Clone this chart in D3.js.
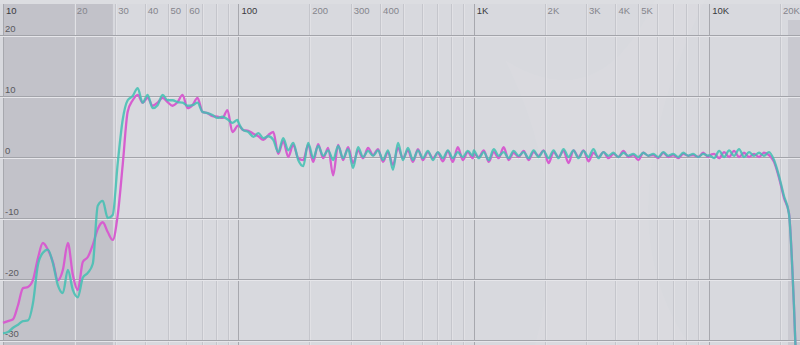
<!DOCTYPE html>
<html>
<head>
<meta charset="utf-8">
<script src="https://cdn.jsdelivr.net/npm/d3@7"></script>
<style>
  html, body { margin: 0; padding: 0; background: #d8d9de; }
  svg { display: block; }
  text { font-family: "Liberation Sans", Arial, sans-serif; font-size: 9.5px; }
</style>
</head>
<body>
<svg id="eq-svg" width="800" height="345"></svg>
<script>
// frequency points (Hz), ~5% apart
const freqs = [
  10, 10.5, 11.03, 11.58, 12.16, 12.76, 13.4, 14.07, 14.77, 15.51, 16.29, 17.1, 17.96, 18.86, 19.8, 20.79,
  21.83, 22.92, 24.07, 25.27, 26.53, 27.86, 29.25, 30.72, 32.25, 33.86, 35.56, 37.34, 39.2, 41.16, 43.22, 45.38,
  47.65, 50.03, 52.53, 55.16, 57.92, 60.81, 63.85, 67.05, 70.4, 73.92, 77.62, 81.5, 85.57, 89.85, 94.34, 99.06,
  100, 105, 110.3, 115.8, 121.6, 127.6, 134, 140.7, 147.7, 155.1, 162.9, 171, 179.6, 188.6, 198, 207.9,
  218.3, 229.2, 240.7, 252.7, 265.3, 278.6, 292.5, 307.2, 322.5, 338.6, 355.6, 373.4, 392, 411.6, 432.2, 453.8,
  476.5, 500.3, 525.3, 551.6, 579.2, 608.1, 638.5, 670.5, 704, 739.2, 776.2, 815, 855.7, 898.5, 943.4, 990.6,
  1000, 1050, 1103, 1158, 1216, 1276, 1340, 1407, 1477, 1551, 1629, 1710, 1796, 1886, 1980, 2079,
  2183, 2292, 2407, 2527, 2653, 2786, 2925, 3072, 3225, 3386, 3556, 3734, 3920, 4116, 4322, 4538,
  4765, 5003, 5253, 5516, 5792, 6081, 6385, 6705, 7040, 7392, 7762, 8150, 8557, 8985, 9434, 9906,
  10000, 10500, 11030, 11580, 12160, 12760, 13400, 14070, 14770, 15510, 16290, 17100, 17960, 18860, 19800, 20790,
  21830, 22920, 24070
];

// magenta trace (dB)
const magentaDb = [
  -27.2, -26.9, -26.6, -24.3, -21.5, -21.3, -20.2, -16.6, -14.1, -15.2, -17.2, -20.2, -18.5, -14.1, -19.3, -21.8,
  -17.2, -16.4, -14.4, -11.8, -10.7, -12.3, -13.6, -9.5, -1.3, 7.4, 9.3, 10.2, 8.9, 9.7, 8.4, 8.9,
  9.7, 9.0, 8.4, 9.0, 10.2, 8.0, 8.5, 9.7, 7.4, 7.2, 6.7, 6.6, 6.4, 7.7, 4.1, 5.1,
  5.2, 4.4, 4.3, 3.8, 3.4, 2.8, 3.6, 4.1, 0.5, 2.6, 0, 2.0, -0.2, -0.5, 2.0, -0.8,
  2.1, -0.2, 1.5, -3.0, 2.0, -0.5, 1.6, -1.0, 1.1, -0.2, 1.5, 0.3, 1.3, -0.8, 0.8, -1.3,
  1.5, -0.2, 1.1, -0.8, 1.3, -0.5, 0.8, -0.2, 0.7, -0.7, 1.0, -0.8, 1.6, -0.5, 0.8, -0.2,
  0.5, 0, 1.1, -0.8, 0.8, -0.2, 1.6, -0.5, 0.7, 0, 1.0, -0.5, 0.8, 0.2, 1.1, -1.0,
  0.8, 0, 1.0, -1.0, 1.1, 0, 1.1, -0.7, 0.7, 0, 0.8, -0.2, 0.5, 0, 1.0, 0,
  0.3, -0.5, 0.7, 0.2, 0.3, -0.2, 0.7, 0, 0.3, -0.2, 0.5, 0.2, 0.3, 0, 0.7, 0,
  0.2, 0.5, -0.2, 0.8, 0, 1.0, 0, 0.7, 0, 0.5, 0, 0.7, 0.3, -0.8, -3.4, -6.7,
  -9.2, -24.3, -46
];

// teal trace (dB)
const tealDb = [
  -28.9, -28.7, -28.0, -27.5, -26.9, -26.8, -24.0, -17.7, -15.7, -15.2, -17.4, -21.0, -22.3, -18.5, -21.8, -23.0,
  -19.8, -19.0, -17.5, -8.0, -7.2, -10.0, -9.5, -1.0, 6.1, 9.3, 10.0, 11.3, 8.9, 10.2, 8.0, 8.5,
  10.2, 9.3, 9.3, 9.0, 8.9, 8.4, 8.5, 8.9, 7.4, 7.2, 6.9, 6.4, 6.6, 6.2, 5.6, 6.1,
  5.7, 4.4, 4.1, 3.3, 3.9, 3.1, 3.4, 2.8, 0.8, 3.1, 1.1, 2.3, -0.5, -1.5, 2.3, -0.2,
  1.8, 0.2, 1.1, -0.5, 1.8, -0.2, 1.3, -1.8, 1.6, 0, 1.0, 0.2, 1.1, -0.5, 1.1, -2.1,
  2.3, -0.5, 1.5, -0.5, 1.1, -0.2, 1.0, -0.5, 0.8, -0.2, 1.1, -0.2, 0.8, 0, 1.0, 0.2,
  1.1, -0.2, 0.8, -0.5, 1.3, 0.2, 0.8, -0.2, 1.0, 0.2, 0.8, -0.2, 1.1, 0, 1.0, -0.2,
  1.1, -0.2, 1.3, 0, 1.1, -0.2, 1.0, 0, 1.3, -0.2, 0.8, 0.2, 0.7, 0, 0.7, 0.2,
  0.5, 0, 0.7, 0.2, 0.5, 0, 0.8, 0.2, 0.5, 0, 0.7, 0.2, 0.5, 0, 0.5, 0.2,
  0.3, -0.2, 1.0, 0, 1.1, 0.2, 1.3, 0, 0.8, 0.2, 0.7, 0.2, 0.8, -0.5, -3.1, -6.4,
  -9.3, -24.3, -46
];

const freqTicks = [10, 20, 30, 40, 50, 60, 100, 200, 300, 400, 1000, 2000, 3000, 4000, 5000, 10000, 20000];
const freqLabels = ["10", "20", "30", "40", "50", "60", "100", "200", "300", "400", "1K", "2K", "3K", "4K", "5K", "10K", "20K"];
const decades = [10, 100, 1000, 10000];
const dbTicks = [20, 10, 0, -10, -20, -30];

const size = { width: 800, height: 345 };
const plotTop = 4;

const x = d3.scaleLog().domain([10, 20000]).range([3, 780]);
const y = d3.scaleLinear().domain([-30, 20]).range([340, 35]);

const svg = d3.select("#eq-svg");

// backgrounds
svg.append("rect").attr("width", size.width).attr("height", size.height).attr("fill", "#dcdde1");
svg.append("rect").attr("y", plotTop).attr("width", size.width).attr("height", size.height - plotTop).attr("fill", "#d8d9de");
svg.append("rect")
  .attr("x", x(10)).attr("y", plotTop)
  .attr("width", x(29.3) - x(10)).attr("height", size.height - plotTop)
  .attr("fill", "#c2c2c9");
svg.append("rect")
  .attr("x", 788).attr("y", 20)
  .attr("width", 12).attr("height", size.height - 20)
  .attr("fill", "#c9c9d0");

// faint overlay shape in the highs
svg.append("path")
  .attr("d", "M505,60 Q575,200 535,345 L690,345 Q600,220 705,0 L655,0 Q600,120 505,60 Z")
  .attr("fill", "#ffffff")
  .attr("opacity", 0.05);

// vertical grid
const minorFreqs = x.ticks().filter((f) => f <= 20000 && !decades.includes(f));
const vgrid = svg.append("g");
vgrid.selectAll(".vhi")
  .data(minorFreqs)
  .enter()
  .append("line")
  .attr("x1", (d) => Math.round(x(d)) + 1.5)
  .attr("x2", (d) => Math.round(x(d)) + 1.5)
  .attr("y1", plotTop).attr("y2", size.height)
  .attr("stroke", "#e1e1e5").attr("stroke-width", 1);
vgrid.selectAll(".vminor")
  .data(minorFreqs)
  .enter()
  .append("line")
  .attr("x1", (d) => Math.round(x(d)) + 0.5)
  .attr("x2", (d) => Math.round(x(d)) + 0.5)
  .attr("y1", plotTop).attr("y2", size.height)
  .attr("stroke", "#c5c6cc").attr("stroke-width", 1);
vgrid.selectAll(".vmajor")
  .data(decades)
  .enter()
  .append("line")
  .attr("x1", (d) => Math.round(x(d)) + 0.5)
  .attr("x2", (d) => Math.round(x(d)) + 0.5)
  .attr("y1", plotTop).attr("y2", size.height)
  .attr("stroke", "#a7a8ae").attr("stroke-width", 1);

// horizontal grid
const hgrid = svg.append("g");
hgrid.selectAll(".hhi")
  .data(dbTicks)
  .enter()
  .append("line")
  .attr("x1", 0).attr("x2", size.width)
  .attr("y1", (d) => Math.round(y(d)) + 1.5)
  .attr("y2", (d) => Math.round(y(d)) + 1.5)
  .attr("stroke", "#e6e6ea");
hgrid.selectAll(".hline")
  .data(dbTicks)
  .enter()
  .append("line")
  .attr("x1", 0).attr("x2", size.width)
  .attr("y1", (d) => Math.round(y(d)) + 0.5)
  .attr("y2", (d) => Math.round(y(d)) + 0.5)
  .attr("stroke", "#a3a4aa");

// labels
svg.append("g")
  .selectAll("text")
  .data(freqTicks)
  .enter()
  .append("text")
  .attr("x", (d) => x(d) + 3)
  .attr("y", 14)
  .attr("fill", (d) => (decades.includes(d) ? "#3a3a40" : "#85858c"))
  .text((d, i) => freqLabels[i]);

svg.append("g")
  .selectAll("text")
  .data(dbTicks)
  .enter()
  .append("text")
  .attr("x", 5)
  .attr("y", (d) => y(d) - 3)
  .attr("fill", "#5a5a60")
  .text((d) => d);

// traces
const line = d3.line()
  .x((d) => x(d[0]))
  .y((d) => y(d[1]))
  .curve(d3.curveMonotoneX);

const plot = svg.append("g");
plot.append("path")
  .datum(freqs.map((f, i) => [f, magentaDb[i]]))
  .attr("d", line)
  .attr("fill", "none")
  .attr("stroke", "#d65ecf")
  .attr("stroke-width", 2.3)
  .attr("stroke-linejoin", "round");
plot.append("path")
  .datum(freqs.map((f, i) => [f, tealDb[i]]))
  .attr("d", line)
  .attr("fill", "none")
  .attr("stroke", "#42bfb3")
  .attr("stroke-width", 2.3)
  .attr("stroke-opacity", 0.85)
  .attr("stroke-linejoin", "round");
</script>
</body>
</html>
